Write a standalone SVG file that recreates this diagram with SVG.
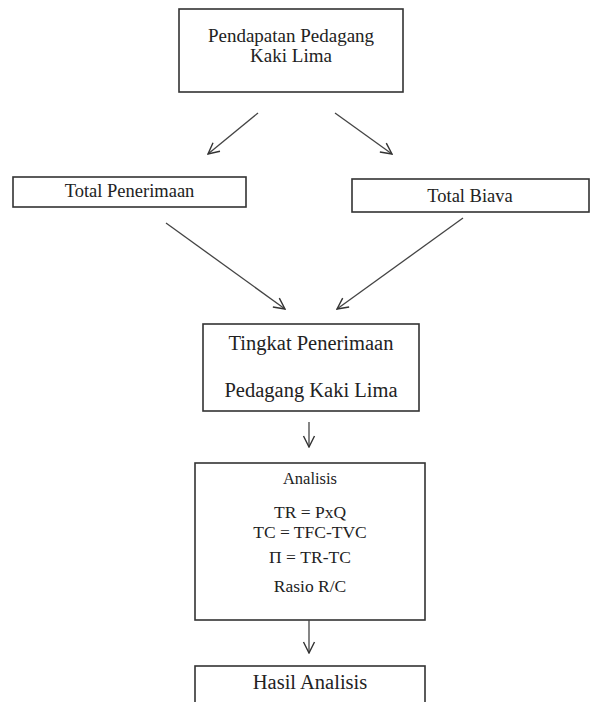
<svg xmlns="http://www.w3.org/2000/svg" width="590" height="702" viewBox="0 0 590 702">
<defs>
<marker id="ah" markerUnits="userSpaceOnUse" markerWidth="14" markerHeight="14" viewBox="0 0 14 14" refX="13" refY="7" orient="auto">
<path d="M2,1.5 L13,7 L2,12.5" fill="none" stroke="#333" stroke-width="1.4"/>
</marker>
</defs>
<style>
rect{fill:#fff;stroke:#333;stroke-width:1.6}
text{font-family:"Liberation Serif","Times New Roman",serif;fill:#222;text-anchor:middle}
.c line{stroke:#444;stroke-width:1.3;marker-end:url(#ah)}
</style>
<rect x="0" y="0" width="590" height="702" style="fill:#fff;stroke:none"/>
<g id="pendapatan">
<rect x="179" y="9" width="224" height="83"/>
<text x="291" y="42" font-size="19">Pendapatan Pedagang</text>
<text x="291" y="62" font-size="19">Kaki Lima</text>
</g>
<g id="total-penerimaan">
<rect x="13" y="177" width="233" height="30"/>
<text x="129.5" y="197" font-size="18.5">Total Penerimaan</text>
</g>
<g id="total-biaya">
<rect x="352" y="179" width="237" height="33"/>
<text x="470" y="202" font-size="18.5">Total Biava</text>
</g>
<g id="tingkat">
<rect x="203" y="324" width="216" height="87"/>
<text x="311" y="350" font-size="20.5">Tingkat Penerimaan</text>
<text x="311" y="397" font-size="20.5">Pedagang Kaki Lima</text>
</g>
<g id="analisis">
<rect x="195" y="463" width="230" height="157"/>
<text x="310" y="484" font-size="16.5">Analisis</text>
<text x="310" y="518" font-size="17.5">TR = PxQ</text>
<text x="310" y="538" font-size="17.5">TC = TFC-TVC</text>
<text x="310" y="563" font-size="17.5">Π = TR-TC</text>
<text x="310" y="592" font-size="17.5">Rasio R/C</text>
</g>
<g id="hasil">
<rect x="195" y="666" width="230" height="60"/>
<text x="310" y="689" font-size="20.5">Hasil Analisis</text>
</g>
<g id="connectors" class="c">
<line x1="258" y1="113" x2="208" y2="154"/>
<line x1="335" y1="113" x2="392" y2="154"/>
<line x1="166" y1="223" x2="285" y2="309"/>
<line x1="463" y1="218" x2="337" y2="309"/>
<line x1="309" y1="422" x2="309" y2="447"/>
<line x1="309" y1="620" x2="309" y2="653"/>
</g>
</svg>
